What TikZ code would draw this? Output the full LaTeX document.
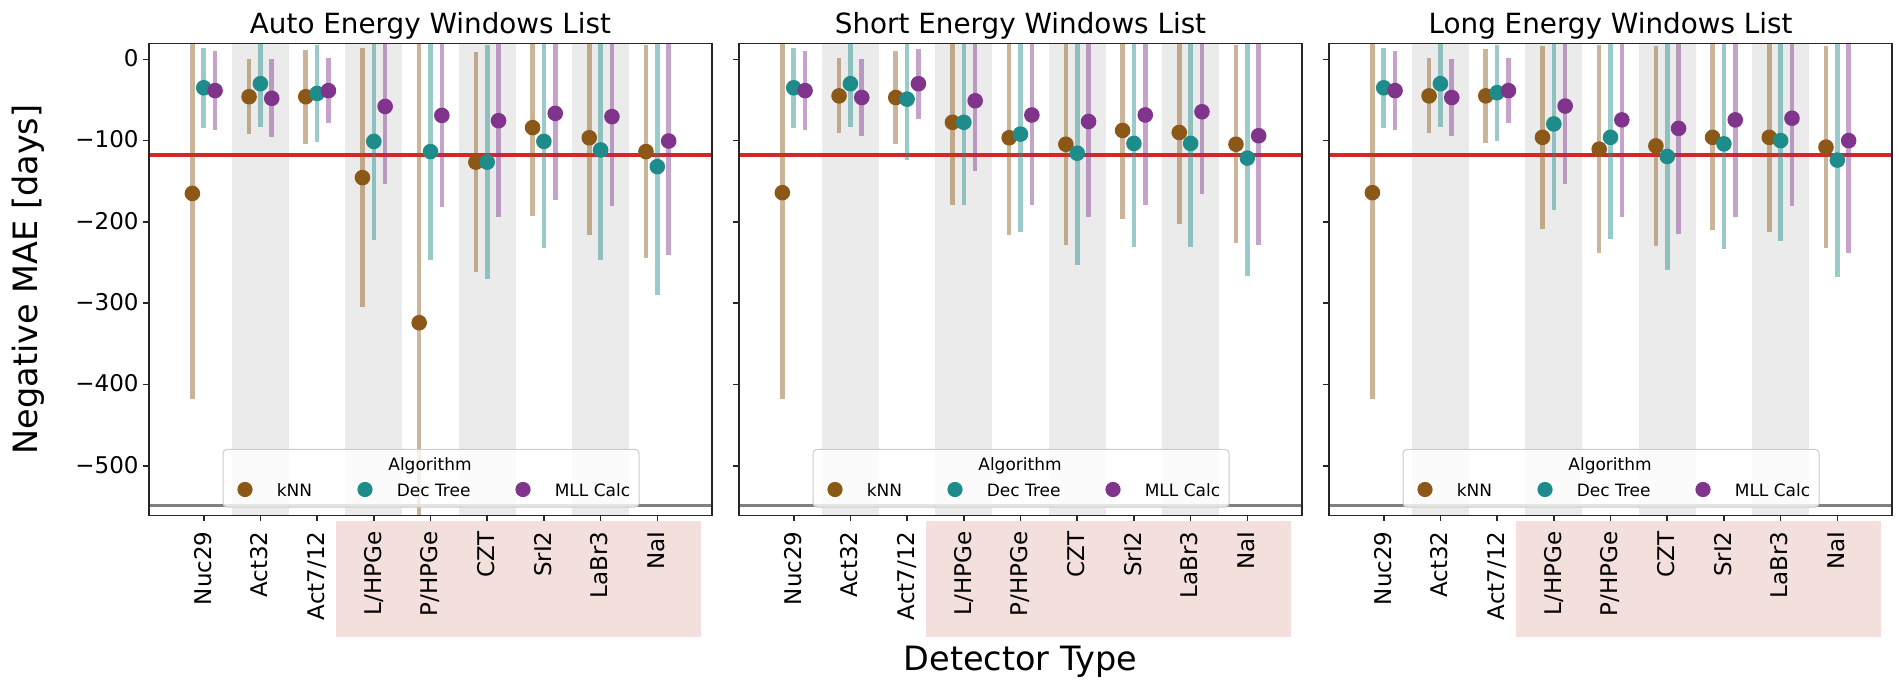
\documentclass[tikz,border=0pt]{standalone}
\usepackage{fontspec}
\setmainfont{DejaVu Sans}
\usepackage{tikz}
\usetikzlibrary{positioning}

\definecolor{knn}{RGB}{140,88,24}
\definecolor{dectree}{RGB}{30,140,138}
\definecolor{mllcalc}{RGB}{128,52,140}
\definecolor{bandgray}{RGB}{235,235,235}
\definecolor{pinkbg}{RGB}{243,223,220}
\definecolor{refred}{RGB}{214,39,40}

\tikzstyle{axframe} = [draw=black!85, line width=0.8pt]
\tikzstyle{tickmark} = [draw=black!85, line width=0.8pt]
\tikzstyle{errbar} = [line width=2.3pt, opacity=0.45]
\tikzstyle{refline} = [draw=refred, line width=1.75pt]
\tikzstyle{floorline} = [draw=gray, line width=1.25pt]
\tikzstyle{ticklabel} = [font=\fontsize{11.5}{13}\selectfont, inner sep=0pt, text height=0.73em, text depth=0pt]
\tikzstyle{detlabel} = [ticklabel, rotate=90, anchor=east]
\tikzstyle{daylabel} = [ticklabel, anchor=east]
\tikzstyle{paneltitle} = [font=\fontsize{13.9}{16}\selectfont, inner sep=0pt, anchor=base]
\tikzstyle{axislabel} = [font=\fontsize{16.75}{19}\selectfont, inner sep=0pt]
\tikzstyle{legbox} = [draw=black!20, fill=white, fill opacity=0.8, rounded corners=2pt, line width=0.5pt]
\tikzstyle{legdot} = [circle, inner sep=0pt, minimum size=7.6pt]
\tikzstyle{legtext} = [font=\fontsize{8.5}{10}\selectfont, inner sep=0pt, text height=0.73em, text depth=0pt]

% detector/mean/halfwidth for kNN, Dec Tree, MLL Calc
\def\autodata{0/-165/253/-35/49.5/-38.5/49, 1/-46/46/-30/53/-48/48, 2/-46/58/-42/60/-38.5/39.5, 3/-145.5/159.5/-101/121/-58/95, 4/-324/400/-113.5/133/-69/113, 5/-126.5/135/-126.5/144/-75.5/119, 6/-84/108.5/-101/131/-66.5/106.5, 7/-96.5/119.5/-111.5/135/-70.5/110.5, 8/-113.5/131/-132/158/-100.5/140}
\def\shortdata{0/-164/254/-35/49.5/-38.5/48.5, 1/-45/46/-30/53/-47/47.5, 2/-47/57/-49/74.5/-30/43, 3/-77.5/101.5/-77.5/101.5/-51/86, 4/-96.5/119/-92/120.5/-68.5/110.5, 5/-104.5/124/-115.5/138/-76.5/118, 6/-87.5/108.5/-103.5/127/-68.5/110.5, 7/-90/112.5/-103.5/127/-64.5/101.5, 8/-104.5/121.5/-121.5/145/-94/134.5}
\def\longdata{0/-164/254/-35/49.5/-38.5/49, 1/-45/46/-30/53/-47/47.5, 2/-45/57.5/-41/59/-38.5/40, 3/-96/112.5/-79.5/105.5/-57.5/96, 4/-110.5/128/-96/125.5/-74.5/119.5, 5/-106.5/123/-119.5/140/-85/130, 6/-96/114.5/-104/129.5/-74.5/119.5, 7/-96/116.5/-100/123.5/-72.5/108.5, 8/-108/124/-124/144/-100/138.5}

\newcommand{\drawpanel}[4]{% left edge, title, name, data
\begin{scope}[shift={(#1,0)}]
  \foreach \i in {1,3,5,7}
    \fill[bandgray] ({54.7+56.7*(\i-0.5)},43.3) rectangle ({54.7+56.7*(\i+0.5)},515.5); % shaded columns
  \draw[refline] (0,155.2) -- (563,155.2); % reference line
  \draw[floorline] (0,505.5) -- (563,505.5); % floor line
  \begin{scope}
    \clip (0,43.3) rectangle (563,515.5);
    \foreach \i/\ka/\kb/\da/\db/\ma/\mb in #4 {
      \draw[errbar,knn] ({54.7+56.7*(\i-0.2)},{59.3-0.813*(\ka+\kb)}) -- ({54.7+56.7*(\i-0.2)},{59.3-0.813*(\ka-\kb)});
      \draw[errbar,dectree] ({54.7+56.7*\i},{59.3-0.813*(\da+\db)}) -- ({54.7+56.7*\i},{59.3-0.813*(\da-\db)});
      \draw[errbar,mllcalc] ({54.7+56.7*(\i+0.2)},{59.3-0.813*(\ma+\mb)}) -- ({54.7+56.7*(\i+0.2)},{59.3-0.813*(\ma-\mb)});
    }
  \end{scope}
  \foreach \i/\ka/\kb/\da/\db/\ma/\mb in #4 {
    \fill[knn] ({54.7+56.7*(\i-0.2)},{59.3-0.813*(\ka)}) circle[radius=3.9pt];
    \fill[dectree] ({54.7+56.7*\i},{59.3-0.813*(\da)}) circle[radius=3.9pt];
    \fill[mllcalc] ({54.7+56.7*(\i+0.2)},{59.3-0.813*(\ma)}) circle[radius=3.9pt];
  }
  % legend
  \draw[legbox] (74,449.3) rectangle (490,507);
  \node[legtext] (#3-algo) at (281,463.3) {Algorithm};
  \node[legdot,fill=knn] (#3-knn) at (96,489.5) {};
  \node[legtext,right=11.7pt of #3-knn] (#3-knnt) {kNN};
  \node[legdot,fill=dectree] (#3-dt) at (216,489.5) {};
  \node[legtext,right=11.7pt of #3-dt] (#3-dtt) {Dec Tree};
  \node[legdot,fill=mllcalc] (#3-mll) at (374,489.5) {};
  \node[legtext,right=11.7pt of #3-mll] (#3-mllt) {MLL Calc};
  % frame and ticks
  \draw[axframe] (0,43.3) rectangle (563,515.5);
  \foreach \v in {0,-100,...,-500}
    \draw[tickmark] (0,{59.3-0.813*(\v)}) -- ++(-5.6,0);
  \fill[pinkbg] (187,521) rectangle (552,637); % highlighted detectors
  \foreach \lab [count=\c from 0] in {Nuc29,Act32,Act7/12,L/HPGe,P/HPGe,CZT,SrI2,LaBr3,NaI} {
    \draw[tickmark] ({54.7+56.7*\c},515.5) -- ++(0,5.6);
    \node[detlabel] (#3-d\c) at ({54.7+56.7*\c},531) {\lab};
  }
  \node[paneltitle] (#3-title) at (281.5,33.3) {#2};
\end{scope}}

\begin{document}
\begin{tikzpicture}[x=0.5pt,y=-0.5pt]
  \useasboundingbox (0,0) rectangle (1898,691);
  \drawpanel{149}{Auto Energy Windows List}{auto}{\autodata}
  \drawpanel{739}{Short Energy Windows List}{short}{\shortdata}
  \drawpanel{1329}{Long Energy Windows List}{long}{\longdata}
  \foreach \v [count=\c] in {0,100,...,500}
    \node[daylabel] (day\c) at (139,{59.3+0.813*\v}) {\ifnum\v=0 0\else −\v\fi}; % y tick labels
  \node[axislabel,rotate=90] (maelabel) at (28.5,279.4) {Negative MAE [days]};
  \node[axislabel,anchor=base] (dettype) at (1020.5,670.7) {Detector Type};
\end{tikzpicture}
\end{document}
